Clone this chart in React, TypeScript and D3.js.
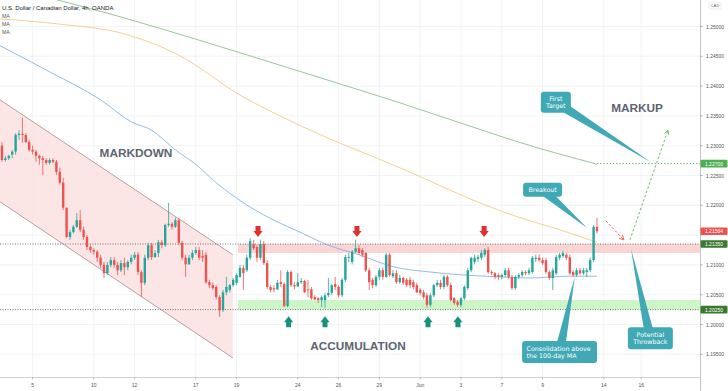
import React from "react";
import * as d3 from "d3";

const W = 728;
const H = 391;

// [open, high, low, close] per 4h candle
const ohlc: [number, number, number, number][] = [
  [1.2300,1.2306,1.2273,1.2276],[1.2276,1.2283,1.2273,1.2279],[1.2279,1.2285,1.2276,1.2283],[1.2285,1.2293,1.2279,1.2290],
  [1.2290,1.2321,1.2285,1.2318],[1.2318,1.2326,1.2310,1.2320],[1.2320,1.2347,1.2305,1.2318],[1.2318,1.2321,1.2305,1.2306],
  [1.2306,1.2310,1.2290,1.2293],[1.2293,1.2300,1.2285,1.2290],[1.2290,1.2293,1.2273,1.2283],[1.2283,1.2285,1.2268,1.2279],
  [1.2279,1.2283,1.2251,1.2276],[1.2276,1.2279,1.2268,1.2271],[1.2271,1.2279,1.2268,1.2276],[1.2276,1.2279,1.2271,1.2273],
  [1.2273,1.2276,1.2251,1.2256],[1.2256,1.2263,1.2235,1.2238],[1.2238,1.2246,1.2192,1.2196],[1.2196,1.2196,1.2145,1.2147],
  [1.2147,1.2159,1.2142,1.2155],[1.2155,1.2167,1.2153,1.2164],[1.2164,1.2187,1.2162,1.2175],[1.2175,1.2192,1.2155,1.2159],
  [1.2159,1.2164,1.2142,1.2147],[1.2147,1.2150,1.2125,1.2130],[1.2130,1.2133,1.2120,1.2125],[1.2125,1.2128,1.2117,1.2122],
  [1.2122,1.2125,1.2105,1.2112],[1.2112,1.2117,1.2095,1.2100],[1.2100,1.2105,1.2078,1.2086],[1.2086,1.2105,1.2083,1.2100],
  [1.2100,1.2113,1.2096,1.2108],[1.2108,1.2113,1.2095,1.2100],[1.2100,1.2105,1.2083,1.2091],[1.2091,1.2108,1.2088,1.2103],
  [1.2103,1.2112,1.2083,1.2096],[1.2096,1.2108,1.2091,1.2105],[1.2105,1.2117,1.2101,1.2112],[1.2112,1.2122,1.2108,1.2117],
  [1.2117,1.2122,1.2083,1.2088],[1.2088,1.2091,1.2046,1.2070],[1.2070,1.2117,1.2066,1.2112],[1.2112,1.2137,1.2108,1.2133],
  [1.2133,1.2137,1.2108,1.2113],[1.2113,1.2125,1.2112,1.2120],[1.2120,1.2142,1.2113,1.2138],[1.2138,1.2142,1.2128,1.2133],
  [1.2133,1.2169,1.2130,1.2167],[1.2167,1.2204,1.2164,1.2169],[1.2169,1.2172,1.2159,1.2164],[1.2164,1.2179,1.2162,1.2175],
  [1.2175,1.2179,1.2133,1.2137],[1.2137,1.2140,1.2108,1.2112],[1.2112,1.2117,1.2080,1.2101],[1.2101,1.2117,1.2100,1.2112],
  [1.2112,1.2125,1.2108,1.2120],[1.2120,1.2130,1.2117,1.2125],[1.2125,1.2130,1.2108,1.2112],[1.2115,1.2125,1.2105,1.2112],
  [1.2117,1.2122,1.2068,1.2071],[1.2071,1.2075,1.2061,1.2066],[1.2066,1.2070,1.2058,1.2061],[1.2063,1.2066,1.2042,1.2046],
  [1.2046,1.2049,1.2013,1.2024],[1.2024,1.2058,1.2021,1.2054],[1.2054,1.2080,1.2049,1.2063],[1.2058,1.2068,1.2054,1.2066],
  [1.2066,1.2078,1.2063,1.2075],[1.2070,1.2086,1.2066,1.2083],[1.2080,1.2100,1.2078,1.2095],[1.2095,1.2100,1.2058,1.2086],
  [1.2091,1.2117,1.2088,1.2112],[1.2112,1.2145,1.2108,1.2140],[1.2135,1.2142,1.2125,1.2128],[1.2130,1.2133,1.2105,1.2112],
  [1.2112,1.2142,1.2108,1.2135],[1.2135,1.2140,1.2100,1.2103],[1.2103,1.2108,1.2059,1.2063],[1.2063,1.2066,1.2054,1.2058],
  [1.2061,1.2066,1.2054,1.2059],[1.2059,1.2075,1.2058,1.2070],[1.2071,1.2091,1.2063,1.2068],[1.2068,1.2071,1.2029,1.2031],
  [1.2031,1.2091,1.2029,1.2088],[1.2088,1.2091,1.2063,1.2066],[1.2066,1.2071,1.2059,1.2064],[1.2064,1.2086,1.2063,1.2071],
  [1.2071,1.2078,1.2068,1.2073],[1.2073,1.2075,1.2053,1.2054],[1.2059,1.2075,1.2046,1.2058],[1.2059,1.2063,1.2041,1.2044],
  [1.2046,1.2049,1.2041,1.2042],[1.2044,1.2046,1.2036,1.2041],[1.2041,1.2049,1.2029,1.2046],[1.2041,1.2053,1.2028,1.2049],
  [1.2049,1.2078,1.2046,1.2053],[1.2053,1.2068,1.2049,1.2066],[1.2068,1.2080,1.2058,1.2063],[1.2063,1.2066,1.2046,1.2049],
  [1.2049,1.2078,1.2046,1.2075],[1.2075,1.2117,1.2071,1.2113],[1.2112,1.2120,1.2105,1.2113],[1.2105,1.2125,1.2101,1.2122],
  [1.2122,1.2142,1.2120,1.2128],[1.2128,1.2133,1.2117,1.2120],[1.2125,1.2128,1.2113,1.2117],[1.2120,1.2122,1.2088,1.2091],
  [1.2091,1.2095,1.2058,1.2071],[1.2075,1.2078,1.2061,1.2066],[1.2066,1.2083,1.2063,1.2080],[1.2080,1.2095,1.2075,1.2091],
  [1.2091,1.2096,1.2075,1.2080],[1.2080,1.2120,1.2078,1.2117],[1.2117,1.2120,1.2080,1.2083],[1.2081,1.2091,1.2078,1.2086],
  [1.2086,1.2091,1.2068,1.2071],[1.2071,1.2083,1.2068,1.2078],[1.2078,1.2080,1.2066,1.2070],[1.2075,1.2078,1.2063,1.2066],
  [1.2075,1.2080,1.2061,1.2066],[1.2071,1.2075,1.2059,1.2063],[1.2066,1.2070,1.2053,1.2054],[1.2058,1.2061,1.2049,1.2053],
  [1.2054,1.2058,1.2042,1.2046],[1.2049,1.2053,1.2028,1.2033],[1.2033,1.2053,1.2029,1.2049],[1.2049,1.2068,1.2046,1.2066],
  [1.2066,1.2075,1.2063,1.2070],[1.2070,1.2075,1.2059,1.2063],[1.2063,1.2083,1.2059,1.2080],[1.2080,1.2083,1.2063,1.2066],
  [1.2066,1.2070,1.2038,1.2041],[1.2044,1.2046,1.2033,1.2036],[1.2038,1.2041,1.2029,1.2033],[1.2033,1.2046,1.2029,1.2044],
  [1.2044,1.2066,1.2041,1.2063],[1.2061,1.2095,1.2058,1.2091],[1.2091,1.2113,1.2088,1.2112],[1.2105,1.2117,1.2101,1.2112],
  [1.2110,1.2117,1.2105,1.2113],[1.2112,1.2125,1.2108,1.2120],[1.2117,1.2128,1.2113,1.2125],[1.2125,1.2130,1.2085,1.2088],
  [1.2088,1.2091,1.2083,1.2086],[1.2086,1.2088,1.2076,1.2080],[1.2083,1.2086,1.2075,1.2080],[1.2080,1.2086,1.2076,1.2083],
  [1.2083,1.2095,1.2080,1.2091],[1.2091,1.2095,1.2076,1.2080],[1.2080,1.2083,1.2058,1.2061],[1.2061,1.2083,1.2058,1.2080],
  [1.2080,1.2086,1.2076,1.2083],[1.2083,1.2091,1.2080,1.2088],[1.2088,1.2091,1.2083,1.2086],[1.2086,1.2095,1.2083,1.2091],
  [1.2088,1.2115,1.2085,1.2112],[1.2110,1.2117,1.2105,1.2112],[1.2112,1.2118,1.2105,1.2108],[1.2108,1.2112,1.2100,1.2103],
  [1.2108,1.2112,1.2085,1.2088],[1.2088,1.2091,1.2075,1.2078],[1.2078,1.2095,1.2058,1.2091],[1.2086,1.2117,1.2083,1.2113],
  [1.2112,1.2120,1.2108,1.2117],[1.2115,1.2123,1.2112,1.2120],[1.2117,1.2120,1.2108,1.2112],[1.2113,1.2117,1.2083,1.2086],
  [1.2088,1.2091,1.2080,1.2083],[1.2083,1.2095,1.2080,1.2091],[1.2091,1.2095,1.2083,1.2086],[1.2086,1.2095,1.2083,1.2091],
  [1.2088,1.2095,1.2080,1.2091],[1.2091,1.2112,1.2088,1.2108],[1.2108,1.2167,1.2105,1.2164],[1.2164,1.2179,1.2153,1.21564],
];

// moving averages sampled at [candle index, price]
const ma100: [number, number][] = [
  [-1, 1.2469],[14, 1.2424],[29, 1.2377],[38, 1.2340],[44, 1.2326],[51, 1.2293],[58, 1.2264],[61, 1.2248],
  [73, 1.2197],[80, 1.2175],[88, 1.2154],[96, 1.2133],[105, 1.2117],[115, 1.2097],[126, 1.2088],[136, 1.2083],
  [146, 1.2080],[155, 1.2078],[167, 1.2081],[175, 1.2081],
];
const ma200: [number, number][] = [
  [-1, 1.2513],[17, 1.2504],[35, 1.2489],[52, 1.2452],[70, 1.2385],[88, 1.2333],[117, 1.2263],[146, 1.2192],
  [152, 1.2180],[164, 1.2159],[175, 1.2138],
];
const ma300: [number, number][] = [
  [-1, 1.2570],[16, 1.2545],[35, 1.2516],[58, 1.2477],[88, 1.2424],[117, 1.2372],[146, 1.2317],[152, 1.2306],[175, 1.2269],
];

const priceTicks = [1.195, 1.2, 1.205, 1.21, 1.215, 1.22, 1.225, 1.23, 1.235, 1.24, 1.245, 1.25];
const hiddenTickLabels = [1.215]; // covered by the last-price tag
const dateTicks: { label: string; i: number }[] = [
  { label: "5", i: 9 }, { label: "10", i: 27 }, { label: "12", i: 39 }, { label: "17", i: 57 },
  { label: "19", i: 69 }, { label: "24", i: 87 }, { label: "26", i: 99 }, { label: "29", i: 111 },
  { label: "Jun", i: 123 }, { label: "3", i: 135 }, { label: "7", i: 147 }, { label: "9", i: 159 },
  { label: "14", i: 177 }, { label: "16", i: 188 },
];

const resistance = [1.2120, 1.2135];
const support = [1.2025, 1.2041];
const resistanceLevel = 1.2135;
const supportLevel = 1.2025;
const targetLevel = 1.227;
const lastPrice = 1.21564;
const zoneStart = 69.4;

const channelUpper: [number, number][] = [[-0.6, 1.2377], [67.9, 1.2117]];
const channelLower: [number, number][] = [[-0.6, 1.2206], [67.9, 1.1944]];

const topArrows = [75.3, 104.4, 141.8];
const topArrowPrice = 1.2147;
const bottomArrows = [84.3, 95, 125.3, 134.1];
const bottomArrowPrice = 1.2014;

const phaseLabels = [
  { text: "MARKDOWN", i: 39.4, p: 1.2288 },
  { text: "ACCUMULATION", i: 104.7, p: 1.1964 },
  { text: "MARKUP", i: 186.8, p: 1.2363 },
];

const callouts = [
  { lines: ["First", "Target"], i: 162.9, p: 1.2373, w: 30, h: 21, tip: [191, 1.2272], align: "middle" },
  { lines: ["Breakout"], i: 159, p: 1.2226, w: 39, h: 14, tip: [172.1, 1.2162], align: "middle" },
  { lines: ["Consolidation above", "the 100-day MA"], i: 164, p: 1.1954, w: 75, h: 22, tip: [168.5, 1.2081], align: "start" },
  { lines: ["Potential", "Throwback"], i: 190.7, p: 1.1977, w: 45, h: 22, tip: [185, 1.2127], align: "middle" },
];

const throwbackPath: [number, number][] = [[177.6, 1.2174], [182.9, 1.2142]];
const markupPath: [number, number][] = [[184.7, 1.2142], [195.9, 1.2326]];

const PLOT_R = 700;
const PLOT_B = 377;

const X = d3.scaleLinear().domain([0, 205.3]).range([2, PLOT_R]);
const Y = d3.scaleLinear().domain([1.195, 1.25]).range([354.3, 26.5]);

const UP = "#26a69a";
const DOWN = "#ef5350";
const AX_FONT = "'Liberation Sans', Arial, sans-serif";
const CALLOUT = "#41a9b5";

function arrowHead(x1: number, y1: number, x2: number, y2: number, size: number) {
  const a = Math.atan2(y2 - y1, x2 - x1);
  const s = 0.5;
  const p1 = [x2 - size * Math.cos(a - s), y2 - size * Math.sin(a - s)];
  const p2 = [x2 - size * Math.cos(a + s), y2 - size * Math.sin(a + s)];
  return `M${p1[0]},${p1[1]}L${x2},${y2}L${p2[0]},${p2[1]}`;
}

export default function App() {
  const line = d3
    .line<[number, number]>()
    .x((d) => X(d[0]))
    .y((d) => Y(d[1]))
    .curve(d3.curveMonotoneX);

  const fmt = d3.format(".5f");

  const channelPoly = [channelUpper[0], channelUpper[1], channelLower[1], channelLower[0]]
    .map((d) => `${X(d[0])},${Y(d[1])}`)
    .join(" ");

  const sideLabel = (p: number, bg: string) => {
    const y = Y(p);
    return (
      <g key={"lab" + p}>
        <rect x={700.5} y={y - 3.8} width={27} height={7.6} fill={bg} rx={1} />
        <text x={714} y={y} fill="#fff" fontSize={5} fontFamily={AX_FONT} textAnchor="middle" dominantBaseline="central">
          {fmt(p)}
        </text>
      </g>
    );
  };

  return (
    <svg width={W} height={H} style={{ position: "absolute", left: 0, top: 0, background: "#fff" }}>
      <defs>
        <clipPath id="plot">
          <rect x={0} y={0} width={PLOT_R} height={PLOT_B} />
        </clipPath>
      </defs>
      <rect x={0} y={0} width={W} height={H} fill="#fff" />
      <g clipPath="url(#plot)">
        {/* grid */}
        {dateTicks.map((t) => (
          <line key={"vg" + t.label} x1={X(t.i)} x2={X(t.i)} y1={0} y2={PLOT_B} stroke="#eef0f4" strokeWidth={0.8} />
        ))}
        {priceTicks.map((p) => (
          <line key={"hg" + p} x1={0} x2={PLOT_R} y1={Y(p)} y2={Y(p)} stroke="#eef0f4" strokeWidth={0.8} />
        ))}

        {/* descending channel */}
        <polygon points={channelPoly} fill="#fbdede" fillOpacity={0.8} />
        <line x1={X(channelUpper[0][0])} y1={Y(channelUpper[0][1])} x2={X(channelUpper[1][0])} y2={Y(channelUpper[1][1])} stroke="#a28f8b" strokeWidth={0.8} />
        <line x1={X(channelLower[0][0])} y1={Y(channelLower[0][1])} x2={X(channelLower[1][0])} y2={Y(channelLower[1][1])} stroke="#a28f8b" strokeWidth={0.8} />

        {/* zones */}
        <rect x={X(zoneStart)} width={PLOT_R - X(zoneStart)} y={Y(resistance[1])} height={Y(resistance[0]) - Y(resistance[1])} fill="#f9c6c6" fillOpacity={0.75} />
        <rect x={X(zoneStart)} width={PLOT_R - X(zoneStart)} y={Y(support[1])} height={Y(support[0]) - Y(support[1])} fill="#c6f3bd" fillOpacity={0.85} />

        {/* level lines */}
        <line x1={0} x2={PLOT_R} y1={Y(resistanceLevel)} y2={Y(resistanceLevel)} stroke="#555" strokeWidth={0.8} strokeDasharray="1 1.5" />
        <line x1={0} x2={PLOT_R} y1={Y(supportLevel)} y2={Y(supportLevel)} stroke="#555" strokeWidth={0.8} strokeDasharray="1 1.5" />
        <line x1={X(ohlc.length - 1)} x2={PLOT_R} y1={Y(targetLevel)} y2={Y(targetLevel)} stroke="#4caf50" strokeWidth={1} strokeDasharray="1.2 2" />

        {/* moving averages */}
        <path d={line(ma300) || ""} fill="none" stroke="#7fb77e" strokeWidth={0.8} />
        <path d={line(ma200) || ""} fill="none" stroke="#f3c56f" strokeWidth={0.8} />
        <path d={line(ma100) || ""} fill="none" stroke="#72acdf" strokeWidth={0.8} />

        {/* candles */}
        {ohlc.map((c, i) => {
          const [o, h, l, cl] = c;
          const up = cl >= o;
          const col = up ? UP : DOWN;
          const x = X(i);
          const yTop = Y(Math.max(o, cl));
          const yBot = Y(Math.min(o, cl));
          return (
            <g key={i}>
              <line x1={x} x2={x} y1={Y(h)} y2={Y(l)} stroke={col} strokeWidth={0.8} />
              <rect x={x - 1.2} width={2.4} y={yTop} height={Math.max(0.8, yBot - yTop)} fill={col} />
            </g>
          );
        })}

        {/* phase labels */}
        {phaseLabels.map((t) => (
          <text key={t.text} x={X(t.i)} y={Y(t.p)} textAnchor="middle" dominantBaseline="central" fontFamily={AX_FONT} fontWeight="bold" fontSize={11.8} fill="#5d6472">
            {t.text}
          </text>
        ))}

        {/* top / bottom arrows */}
        {topArrows.map((i) => {
          const cx = X(i);
          const tip = Y(topArrowPrice);
          const top = tip - 11;
          return (
            <path key={"ta" + i} d={`M${cx - 2.5},${top}L${cx + 2.5},${top}L${cx + 2.5},${top + 5}L${cx + 4.6},${top + 5}L${cx},${tip}L${cx - 4.6},${top + 5}L${cx - 2.5},${top + 5}Z`} fill="#e3302f" />
          );
        })}
        {bottomArrows.map((i) => {
          const cx = X(i);
          const tip = Y(bottomArrowPrice);
          const bot = tip + 11;
          return (
            <path key={"ba" + i} d={`M${cx - 2.5},${bot}L${cx + 2.5},${bot}L${cx + 2.5},${bot - 5}L${cx + 4.6},${bot - 5}L${cx},${tip}L${cx - 4.6},${bot - 5}L${cx - 2.5},${bot - 5}Z`} fill="#17917c" />
          );
        })}

        {/* projected paths */}
        {[
          { pts: throwbackPath, col: "#ef5350" },
          { pts: markupPath, col: "#5fb760" },
        ].map((a, k) => {
          const x1 = X(a.pts[0][0]);
          const y1 = Y(a.pts[0][1]);
          const x2 = X(a.pts[1][0]);
          const y2 = Y(a.pts[1][1]);
          return (
            <g key={"pa" + k}>
              <line x1={x1} y1={y1} x2={x2} y2={y2} stroke={a.col} strokeWidth={0.9} strokeDasharray="2.5 2" />
              <path d={arrowHead(x1, y1, x2, y2, 5)} fill="none" stroke={a.col} strokeWidth={0.9} />
            </g>
          );
        })}

        {/* callouts */}
        {callouts.map((c, k) => {
          const cx = X(c.i);
          const cy = Y(c.p);
          const tx = X(c.tip[0]);
          const ty = Y(c.tip[1]);
          const a = Math.atan2(ty - cy, tx - cx);
          const hw = 5;
          const b1 = [cx + hw * Math.sin(a), cy - hw * Math.cos(a)];
          const b2 = [cx - hw * Math.sin(a), cy + hw * Math.cos(a)];
          const lh = 7.2;
          const y0 = cy - ((c.lines.length - 1) * lh) / 2;
          const textX = c.align === "start" ? cx - c.w / 2 + 4.5 : cx;
          return (
            <g key={"co" + k}>
              <polygon points={`${b1[0]},${b1[1]} ${tx},${ty} ${b2[0]},${b2[1]}`} fill={CALLOUT} />
              <rect x={cx - c.w / 2} y={cy - c.h / 2} width={c.w} height={c.h} rx={3} fill={CALLOUT} />
              {c.lines.map((ln, j) => (
                <text key={j} x={textX} y={y0 + j * lh} fill="#fff" fontSize={6.3} fontFamily="'DejaVu Sans', Verdana, sans-serif" textAnchor={c.align as any} dominantBaseline="central">
                  {ln}
                </text>
              ))}
            </g>
          );
        })}

        {/* legend */}
        <text x={2} y={9.5} fontSize={6} fontFamily={AX_FONT} fill="#131722" fontWeight={500}>
          U.S. Dollar / Canadian Dollar, 4h, OANDA
        </text>
        {["MA", "MA", "MA"].map((t, j) => (
          <text key={"ma" + j} x={2} y={17.5 + j * 8.2} fontSize={5.2} fontFamily={AX_FONT} fill="#555">
            {t}
          </text>
        ))}
      </g>

      {/* axes */}
      <line x1={PLOT_R + 0.5} x2={PLOT_R + 0.5} y1={0} y2={H} stroke="#b2b5be" strokeWidth={0.8} />
      <line x1={0} x2={PLOT_R} y1={PLOT_B + 0.5} y2={PLOT_B + 0.5} stroke="#c5c8d0" strokeWidth={0.8} />
      {priceTicks.map((p) => (
        <g key={"pt" + p}>
          <line x1={PLOT_R} x2={PLOT_R + 3} y1={Y(p)} y2={Y(p)} stroke="#999" strokeWidth={0.6} />
          {!hiddenTickLabels.includes(p) && (
            <text x={706} y={Y(p)} fontSize={5} fontFamily={AX_FONT} fill="#555" dominantBaseline="central">
              {fmt(p)}
            </text>
          )}
        </g>
      ))}
      {dateTicks.map((t) => (
        <g key={"dt" + t.label}>
          <line x1={X(t.i)} x2={X(t.i)} y1={PLOT_B} y2={PLOT_B + 2.5} stroke="#999" strokeWidth={0.6} />
          <text x={X(t.i)} y={384.5} fontSize={5} fontFamily={AX_FONT} fill="#555" textAnchor="middle" dominantBaseline="central">
            {t.label}
          </text>
        </g>
      ))}
      {sideLabel(targetLevel, "#4caf50")}
      {sideLabel(lastPrice, "#ef5350")}
      {sideLabel(resistanceLevel, "#3b7a2e")}
      {sideLabel(supportLevel, "#3b7a2e")}
      <rect x={709} y={2.5} width={12} height={6.5} rx={1.5} fill="#fff" stroke="#d6d8de" strokeWidth={0.5} />
      <text x={715} y={5.8} fontSize={4.2} fontFamily={AX_FONT} fill="#666" textAnchor="middle" dominantBaseline="central">
        CAD
      </text>
    </svg>
  );
}
